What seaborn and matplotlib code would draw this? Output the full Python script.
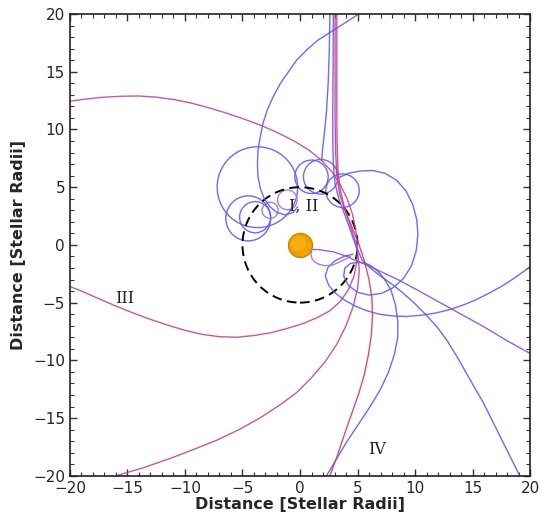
import numpy as np
import pandas as pd
import matplotlib
matplotlib.use('Agg')
import matplotlib.pyplot as plt
from matplotlib.patches import Circle
from matplotlib.ticker import MultipleLocator
import seaborn as sns

#
# trajectories (stellar radii)
#
iii_x = [-20, -18.5, -17, -15.5, -14, -12.5, -11, -9.5, -8, -6.5, -5, -3.5, -2, -0.5, 0.8, 1.9, 2.8, 3.5, 4.1, 4.55, 4.85, 5.0, 4.95, 4.7, 4.2, 3.5, 2.6, 1.5, 0.3, -1, -2.5, -4, -5.5, -7, -8.5, -10, -11.5, -13, -14.5, -16, -17.5, -19, -20]
iii_y = [12.45, 12.65, 12.8, 12.88, 12.9, 12.8, 12.6, 12.3, 11.9, 11.45, 10.95, 10.4, 9.75, 9.0, 8.2, 7.3, 6.3, 5.2, 4.0, 2.7, 1.3, -0.1, -1.4, -2.7, -3.9, -4.9, -5.7, -6.3, -6.8, -7.2, -7.6, -7.85, -8.0, -7.95, -7.75, -7.4, -6.95, -6.45, -5.9, -5.3, -4.65, -4.0, -3.6]

mag_x = [3.2, 3.2, 3.2, 3.22, 3.3, 3.5, 3.85, 4.3, 4.75, 5.05, 5.15, 5.0, 4.6, 4.0, 3.2, 2.2, 1.0, -0.3, -1.8, -3.5, -5.3, -7.2, -9.2, -11.3, -13.6, -16]
mag_y = [20, 16, 12, 9, 6.5, 4.8, 3.3, 1.9, 0.5, -0.9, -2.3, -3.8, -5.4, -7.0, -8.6, -10.1, -11.5, -12.8, -13.9, -15.0, -16.0, -16.9, -17.7, -18.5, -19.3, -20]

red_x = [3.05, 3.05, 3.05, 3.1, 3.2, 3.45, 3.9, 4.5, 5.1, 5.6, 6.0, 6.25, 6.3, 6.2, 5.95, 5.6, 5.1, 4.5, 3.9, 3.3, 2.6]
red_y = [20, 15, 11, 8, 6, 4.4, 3.0, 1.6, 0.1, -1.4, -3.0, -4.6, -6.2, -7.8, -9.5, -11.2, -12.9, -14.6, -16.3, -18.1, -20]

blue_a_x = [2.9, 2.88, 2.85, 2.85, 2.9, 3.05, 3.4, 3.9, 4.4, 4.9, 5.4, 6.1, 7.0, 8.0, 9.0, 10.0, 11.0, 11.9, 12.8, 13.6, 14.4, 15.2, 15.9, 16.7, 17.5, 18.3, 19.1]
blue_a_y = [20, 16, 12, 9, 7, 5.3, 3.9, 2.6, 1.2, -0.2, -1.3, -2.0, -2.7, -3.4, -4.2, -5.1, -6.1, -7.1, -8.3, -9.6, -11.0, -12.4, -13.6, -15.2, -16.8, -18.4, -20]

blue_b_x = [2.6, 2.55, 2.45, 2.3, 2.1, 1.95, 1.9]
blue_b_y = [20, 17, 14, 11.5, 9.5, 8.2, 7.4]

blue_c_x = [3.3, 4.2, 5.2, 6.3, 7.4, 8.4, 9.2, 9.8, 10.15, 10.25, 10.1, 9.7, 9.0, 8.1, 7.1, 6.0, 5.0, 4.2, 3.8, 3.9, 4.4, 5.2, 6.0, 6.7, 7.3, 7.9, 8.3, 8.5, 8.5, 8.2, 7.7, 7.0, 6.1, 5.1, 4.1, 3.2, 2.3]
blue_c_y = [5.8, 6.2, 6.4, 6.45, 6.2, 5.6, 4.7, 3.5, 2.2, 0.9, -0.5, -1.8, -2.9, -3.7, -4.2, -4.35, -4.1, -3.5, -2.7, -2.0, -1.6, -1.5, -1.7, -2.2, -2.9, -3.9, -5.2, -6.6, -8.0, -9.5, -11.0, -12.5, -14.0, -15.5, -17.0, -18.5, -20]

blue_d_x = [4.6, 3.8, 3.0, 2.4, 2.2, 2.5, 3.1, 3.9, 4.8, 5.8, 6.9, 8.0, 9.2, 10.5, 11.8, 13.0, 14.2, 15.3, 16.4, 17.5, 18.6, 20]
blue_d_y = [-0.8, -1.0, -1.4, -2.0, -2.7, -3.5, -4.2, -4.8, -5.3, -5.7, -6.0, -6.15, -6.2, -6.1, -5.9, -5.6, -5.2, -4.75, -4.2, -3.6, -2.9, -1.9]

blue_e_x = [5.5, 4.8, 3.7, 2.6, 1.5, 0.6, -0.3, -1.0, -1.7, -2.3, -2.8, -3.2, -3.45, -3.65, -3.7, -3.65, -3.45, -3.1, -2.6, -2.0, -1.3, -0.6, -0.2]
blue_e_y = [20.3, 19.8, 19.1, 18.4, 17.7, 16.9, 16.0, 15.0, 14.0, 12.9, 11.8, 10.6, 9.4, 8.2, 7.0, 5.9, 4.9, 4.0, 3.3, 2.8, 2.6, 2.8, 3.3]

purple_x = [1.0, 1.6, 2.2, 2.9, 3.5, 4.1, 4.7, 5.6, 7.0, 8.5, 10, 12, 14, 16, 18, 20]
purple_y = [-0.4, -0.4, -0.5, -0.6, -0.8, -1.0, -1.3, -1.65, -2.3, -3.0, -3.8, -4.9, -6.0, -7.1, -8.3, -9.4]

lav_x = [1.0, 0.95, 1.05, 1.3, 1.7, 2.2, 2.8, 3.3, 3.9, 4.4]
lav_y = [-0.4, -0.8, -1.2, -1.5, -1.7, -1.8, -1.75, -1.55, -1.25, -1.0]

# gyration loops (centre x, centre y, radius)
loop_cx = [-3.7, -4.5, -3.9, -2.6, -1.1, 1.0, 1.8, 3.7]
loop_cy = [5.0, 2.3, 2.4, 3.0, 3.9, 5.9, 5.9, 4.7]
loop_r = [3.5, 1.95, 1.35, 0.7, 0.85, 1.45, 1.5, 1.45]

# labels
lab_txt = ['I, II', 'III', 'IV']
lab_x = [0.3, -15.2, 6.7]
lab_y = [3.3, -4.6, -17.7]

# ========================================
# PLOTTING
# ========================================
sns.set_style('ticks')
plt.rcParams['font.family'] = ['DejaVu Sans']

fig, ax = plt.subplots()
fig.set_size_inches((5.42, 5.20))
plt.subplots_adjust(left=0.129, right=0.978, bottom=0.085, top=0.973)

c_blue = '#5a5aff'
c_mag = '#c0449e'
c_red = '#e0336a'
c_pur = '#8f4fd0'
c_lav = '#a070d8'

lines = [
	(iii_x, iii_y, c_mag),
	(mag_x, mag_y, c_mag),
	(blue_a_x, blue_a_y, c_blue),
	(blue_b_x, blue_b_y, c_blue),
	(blue_c_x, blue_c_y, c_blue),
	(blue_d_x, blue_d_y, c_blue),
	(blue_e_x, blue_e_y, c_blue),
	(purple_x, purple_y, c_pur),
	(lav_x, lav_y, c_lav),
	(red_x, red_y, c_red),
]
for xs, ys, col in lines:
	df = pd.DataFrame({'x': xs, 'y': ys})
	sns.lineplot(data=df, x='x', y='y', sort=False, estimator=None,
		color=col, lw=1.0, alpha=0.9, ax=ax)

loop_cols = [c_blue, c_blue, c_blue, c_lav, c_lav, c_blue, c_blue, c_blue]
for cx, cy, r, col in zip(loop_cx, loop_cy, loop_r, loop_cols):
	ax.add_patch(Circle((cx, cy), r, fill=False, ec=col, lw=1.0, alpha=0.9))

# critical radius
ax.add_patch(Circle((0, 0), 5, fill=False, ec='black', lw=1.4, ls=(0, (5, 2.8))))

# star
ax.scatter([0], [0], s=300, color='#f2a000', edgecolor='#c98400', lw=1.0, zorder=5)
ax.scatter([-0.15], [0.2], s=120, color='#f8b31a', lw=0, zorder=6, alpha=0.8)

for t, x, y in zip(lab_txt, lab_x, lab_y):
	ax.text(x, y, t, family='DejaVu Serif', fontsize=11.5, ha='center', va='center', color='#222222')

ax.set_xlim(-20, 20)
ax.set_ylim(-20, 20)
ax.xaxis.set_major_locator(MultipleLocator(5))
ax.yaxis.set_major_locator(MultipleLocator(5))
ax.xaxis.set_minor_locator(MultipleLocator(1))
ax.yaxis.set_minor_locator(MultipleLocator(1))
ax.tick_params(which='both', direction='in', top=True, right=True, labelsize=11, color='#333333')
ax.tick_params(which='major', length=5, width=1)
ax.tick_params(which='minor', length=3, width=0.8)
for s in ax.spines.values():
	s.set_linewidth(1.2)
	s.set_color('#222222')

ax.set_xlabel('Distance [Stellar Radii]', fontsize=11.5, fontweight='bold', labelpad=1)
ax.set_ylabel('Distance [Stellar Radii]', fontsize=11.5, fontweight='bold', labelpad=5)

fig.savefig('out.png', dpi=100)
